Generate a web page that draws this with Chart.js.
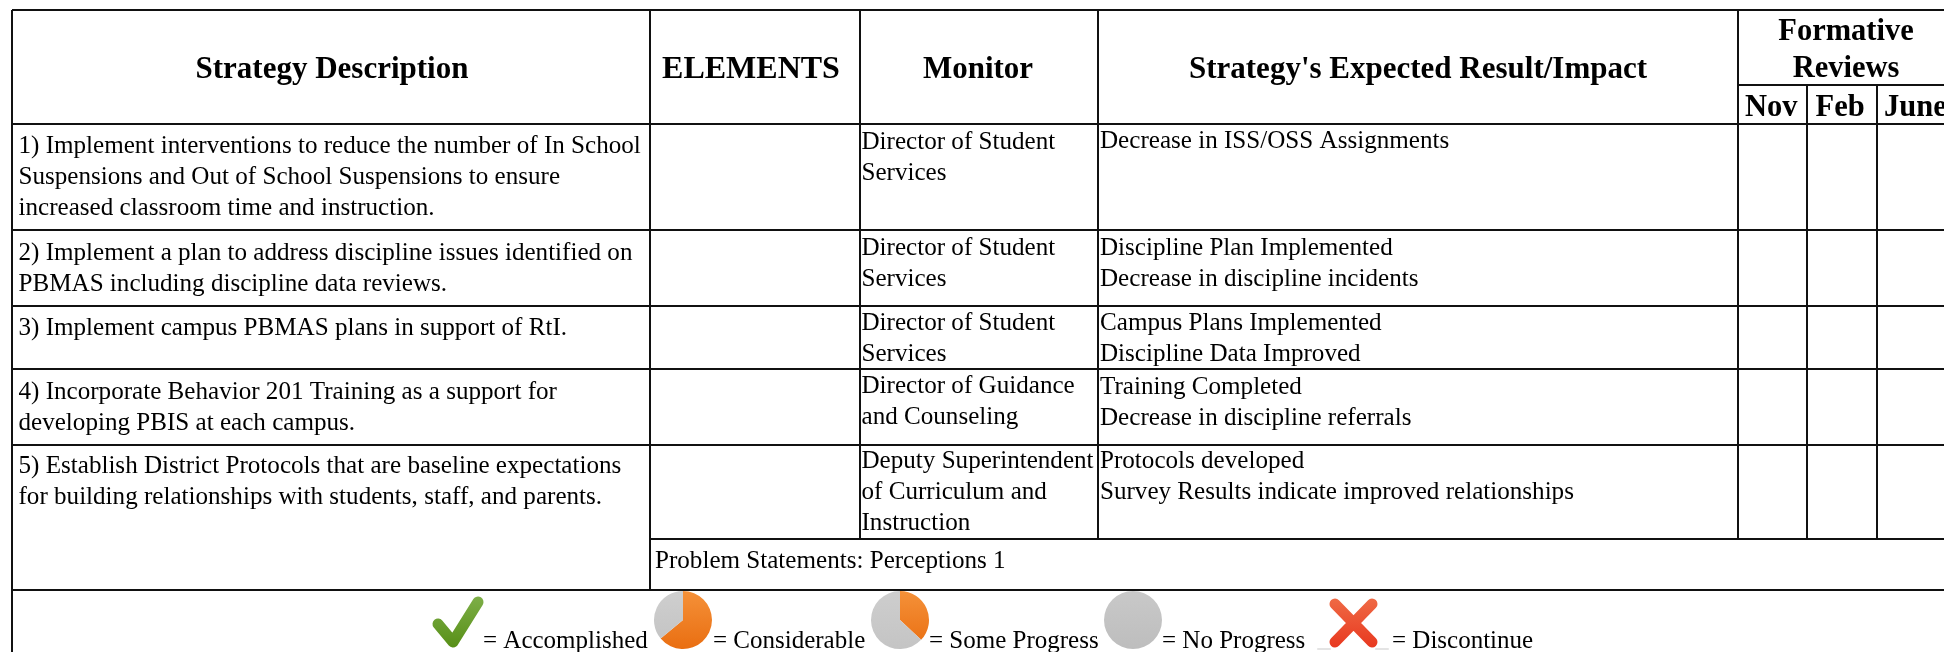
<!DOCTYPE html>
<html><head><meta charset="utf-8">
<style>
html,body{margin:0;padding:0;background:#fff;overflow:hidden}
#wrap{position:relative;width:1944px;height:652px;overflow:hidden}
#wrap canvas{position:absolute;filter:blur(0.35px)}
#wrap canvas.icon{filter:blur(0.7px)}
</style>
<script src="https://cdn.jsdelivr.net/npm/chart.js@4/dist/chart.umd.js"></script>
</head><body>
<div id="wrap">
<canvas id="main" width="1944" height="652" style="left:0;top:0;width:1944px;height:652px"></canvas>
<canvas class="icon" id="pie1" width="62" height="62" style="left:652px;top:589px;width:62px;height:62px"></canvas>
<canvas class="icon" id="pie2" width="62" height="62" style="left:869px;top:589px;width:62px;height:62px"></canvas>
<canvas class="icon" id="pie3" width="62" height="62" style="left:1102px;top:589px;width:62px;height:62px"></canvas>
</div>
<script>
// ---- content ----
const tableHeaders = ["Strategy Description","ELEMENTS","Monitor","Strategy's Expected Result/Impact"];
const reviewTitle = ["Formative","Reviews"];
const reviewMonths = ["Nov","Feb","June"];
const strategyLines = [
 ["1) Implement interventions to reduce the number of In School","Suspensions and Out of School Suspensions to ensure","increased classroom time and instruction."],
 ["2) Implement a plan to address discipline issues identified on","PBMAS including discipline data reviews."],
 ["3) Implement campus PBMAS plans in support of RtI."],
 ["4) Incorporate Behavior 201 Training as a support for","developing PBIS at each campus."],
 ["5) Establish District Protocols that are baseline expectations","for building relationships with students, staff, and parents."]
];
const monitorLines = [
 ["Director of Student","Services"],
 ["Director of Student","Services"],
 ["Director of Student","Services"],
 ["Director of Guidance","and Counseling"],
 ["Deputy Superintendent","of Curriculum and","Instruction"]
];
const resultLines = [
 ["Decrease in ISS/OSS Assignments"],
 ["Discipline Plan Implemented","Decrease in discipline incidents"],
 ["Campus Plans Implemented","Discipline Data Improved"],
 ["Training Completed","Decrease in discipline referrals"],
 ["Protocols developed","Survey Results indicate improved relationships"]
];
const problemStatement = "Problem Statements: Perceptions 1";
const legendLabels = ["= Accomplished","= Considerable","= Some Progress","= No Progress","= Discontinue"];
const considerableShare = [64,36];
const someProgressShare = [37,63];
const noProgressShare = [100];

// ---- layout ----
const FONT = '"Liberation Serif","Times New Roman",serif';
const cols = {left:12,elem:650,mon:860,res:1098,rev:1738,feb:1807,june:1877};
const rows = {top:10,rev:85,head:124,r1:230,r2:306,r3:369,r4:445,r5:539,bottom:590};
const LH = 31;
const strategyBase = [153,260,335,399,473];
const monitorBase = [149,255,330,393,468];
const resultBase = [148,255,330,394,468];
const legendX = [483,713,929,1162,1392];

const tablePlugin = {
 id:'table',
 afterDraw(chart){
  const c = chart.ctx, X = chart.scales.x, Y = chart.scales.y;
  const px = v => X.getPixelForValue(v), py = v => Y.getPixelForValue(v);
  c.save();
  c.strokeStyle = '#111';
  const line = (x1,y1,x2,y2,w)=>{c.lineWidth=w;c.beginPath();c.moveTo(px(x1),py(y1));c.lineTo(px(x2),py(y2));c.stroke();};
  const right = 1944;
  // horizontal rules
  line(cols.left,rows.top,right,rows.top,2);
  line(cols.left,rows.head,right,rows.head,2);
  line(cols.rev,rows.rev,right,rows.rev,2);
  [rows.r1,rows.r2,rows.r3,rows.r4].forEach(y=>line(cols.left,y,right,y,2));
  line(cols.elem,rows.r5,right,rows.r5,2);
  line(cols.left,rows.bottom,right,rows.bottom,2);
  // vertical rules
  line(cols.left,rows.top,cols.left,652,2);
  line(cols.elem,rows.top,cols.elem,rows.bottom,2);
  line(cols.mon,rows.top,cols.mon,rows.r5,2);
  line(cols.res,rows.top,cols.res,rows.r5,2);
  line(cols.rev,rows.top,cols.rev,rows.r5,2);
  line(cols.feb,rows.rev,cols.feb,rows.r5,2);
  line(cols.june,rows.rev,cols.june,rows.r5,2);
  // text
  c.fillStyle='#000';
  c.textBaseline='alphabetic';
  const text=(s,x,y,font,al)=>{c.font=font;c.textAlign=al||'left';c.fillText(s,px(x),py(y));};
  const B='bold 31px '+FONT, B2='bold 30.5px '+FONT, R='25.1px '+FONT;
  text(tableHeaders[0],332,78,B,'center');
  text(tableHeaders[1],751,78,'bold 32px '+FONT,'center');
  text(tableHeaders[2],978,78,B,'center');
  text(tableHeaders[3],1418,78,B,'center');
  text(reviewTitle[0],1846,40,B2,'center');
  text(reviewTitle[1],1846,77,B2,'center');
  text(reviewMonths[0],1745,116,B2);
  text(reviewMonths[1],1815.5,116,B2);
  text(reviewMonths[2],1884,116,B2);
  strategyLines.forEach((ls,i)=>ls.forEach((s,j)=>text(s,18.5,strategyBase[i]+j*LH,R)));
  monitorLines.forEach((ls,i)=>ls.forEach((s,j)=>text(s,861.5,monitorBase[i]+j*LH,R)));
  resultLines.forEach((ls,i)=>ls.forEach((s,j)=>text(s,1100,resultBase[i]+j*LH,R)));
  text(problemStatement,655,568,R);
  legendLabels.forEach((s,i)=>text(s,legendX[i],648,'25px '+FONT));
  // check mark
  c.lineCap='round';c.lineJoin='round';
  let g=c.createLinearGradient(0,py(597),0,py(648));
  g.addColorStop(0,'#7dae47');g.addColorStop(1,'#578f17');
  c.strokeStyle=g;c.lineWidth=11;
  c.beginPath();c.moveTo(px(438),py(624));c.lineTo(px(453),py(642));c.lineTo(px(478),py(602));c.stroke();
  // red cross with its faint ground shadow
  c.strokeStyle='rgba(130,130,130,.22)';
  line(1318,649,1330,649,2);
  line(1376,649,1388,649,2);
  g=c.createLinearGradient(0,py(598),0,py(648));
  g.addColorStop(0,'#ef6a45');g.addColorStop(1,'#e8381f');
  c.strokeStyle=g;c.lineWidth=11;
  c.beginPath();c.moveTo(px(1335),py(604));c.lineTo(px(1372),py(642));
  c.moveTo(px(1372),py(604));c.lineTo(px(1335),py(642));c.stroke();
  c.restore();
 }
};

new Chart(document.getElementById('main'),{
 type:'scatter',
 data:{datasets:[{data:[]}]},
 options:{
  responsive:false,animation:false,
  layout:{padding:0},
  plugins:{legend:{display:false},tooltip:{enabled:false}},
  scales:{
   x:{type:'linear',min:0,max:1944,display:false},
   y:{type:'linear',min:0,max:652,reverse:true,display:false}
  }
 },
 plugins:[tablePlugin]
});

function grad(id,a,b){
 const g=document.getElementById(id).getContext('2d').createLinearGradient(0,0,0,62);
 g.addColorStop(0,a);g.addColorStop(1,b);return g;
}
function pie(id,values,colors){
 new Chart(document.getElementById(id),{
  type:'pie',
  data:{datasets:[{data:values,backgroundColor:colors,borderWidth:0}]},
  options:{responsive:false,animation:false,layout:{padding:2},
   plugins:{legend:{display:false},tooltip:{enabled:false}}}
 });
}
pie('pie1',considerableShare,[grad('pie1','#f5923a','#e96d10'),grad('pie1','#cfcfcf','#c2c2c2')]);
pie('pie2',someProgressShare,[grad('pie2','#f5923a','#e96d10'),grad('pie2','#cecece','#c4c4c4')]);
pie('pie3',noProgressShare,[grad('pie3','#c9c9c9','#bdbdbd')]);
</script>
</body></html>
